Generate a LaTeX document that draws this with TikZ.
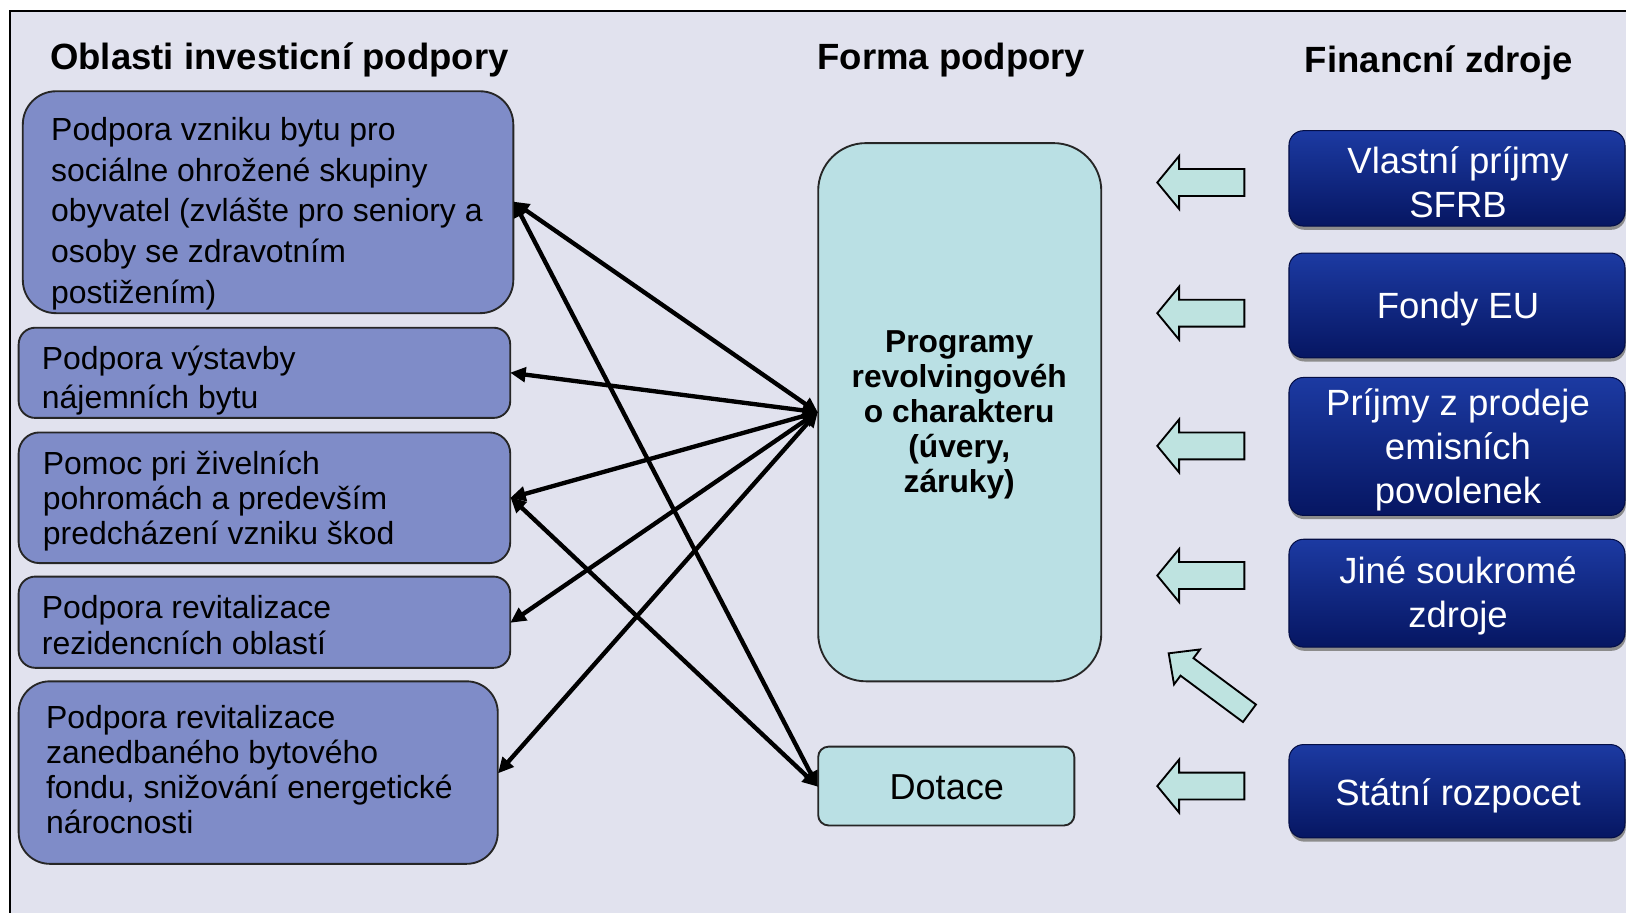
\documentclass[tikz,border=0pt]{standalone}
\usepackage{fontspec}
\setmainfont{Liberation Sans}
\usetikzlibrary{arrows.meta,fit,shadows}
\definecolor{bgcol}{RGB}{225,226,238}
\definecolor{lboxcol}{RGB}{127,140,200}
\definecolor{cboxcol}{RGB}{186,224,228}
\definecolor{afill}{RGB}{190,227,224}
\definecolor{navytop}{RGB}{28,58,162}
\definecolor{navybot}{RGB}{6,22,98}
\definecolor{navyline}{RGB}{4,14,70}
\begin{document}
\begin{tikzpicture}[x=0.5pt,y=-0.5pt,
  leftbox/.style={draw=black!85, line width=0.9pt, fill=lboxcol, inner sep=0pt},
  cyanbox/.style={draw=black!85, line width=0.9pt, fill=cboxcol, inner sep=0pt},
  srcbox/.style={draw=navyline, line width=0.5pt, top color=navytop, bottom color=navybot,
     rounded corners=7pt, inner sep=0pt,
     drop shadow={shadow xshift=0.4pt, shadow yshift=-1.8pt, fill=black!45, opacity=1}},
  head/.style={anchor=base west, inner sep=0pt, font=\bfseries\fontsize{17.6pt}{21pt}\selectfont},
  ltext/.style={anchor=west, align=left, inner sep=0pt},
  srctext/.style={align=center, inner sep=0pt, text=white, font=\fontsize{17.6pt}{21.2pt}\selectfont},
  link/.style={line width=2.1pt, >={Triangle[length=7.5pt,width=7pt]}, <->, shorten <=-0.5pt, shorten >=-0.5pt},
  fatline/.style={draw=black, line width=0.9pt, fill=afill, line join=miter},
  fatarrow/.pic={\draw[fatline] (0,0) -- (21,-25.5) -- (21,-13) -- (84,-13) -- (84,13) -- (21,13) -- (21,25.5) -- cycle;},
  fatarrowdiag/.pic={\draw[fatline] (0,0) -- (22,-21) -- (22,-10.5) -- (97,-10.5) -- (97,10.5) -- (22,10.5) -- (22,21) -- cycle;}
]
\useasboundingbox (0,0) rectangle (1568,880);
\clip (0,0) rectangle (1568,880);
\fill[white] (0,0) rectangle (1568,880);
\draw[fill=bgcol, line width=1pt] (10,11) rectangle (1620,920);

% headers
\node[head] (h1) at (48,67) {Oblasti investicní podpory};
\node[head] (h2) at (788,67) {Forma podpory};
\node[head] (h3) at (1258,70) {Financní zdroje};

% left boxes
\node[leftbox, rounded corners=16pt, fit={(22,88) (495,302)}] (b1) {};
\node[leftbox, rounded corners=8pt, fit={(18,316) (492,403)}] (b2) {};
\node[leftbox, rounded corners=10pt, fit={(18,417) (492,543)}] (b3) {};
\node[leftbox, rounded corners=8pt, fit={(18,556) (492,644)}] (b4) {};
\node[leftbox, rounded corners=15pt, fit={(18,657) (480,833)}] (b5) {};

\node[ltext, font=\fontsize{15.4pt}{19.6pt}\selectfont] (t1) at (49,206)
  {Podpora vzniku bytu pro\\sociálne ohrožené skupiny\\obyvatel (zvlášte pro seniory a\\osoby se zdravotním\\postižením)};
\node[ltext, font=\fontsize{15.4pt}{19pt}\selectfont] (t2) at (40,367)
  {Podpora výstavby\\nájemních bytu};
\node[ltext, font=\fontsize{15.4pt}{17pt}\selectfont] (t3) at (41,483)
  {Pomoc pri živelních\\pohromách a predevším\\predcházení vzniku škod};
\node[ltext, font=\fontsize{15.4pt}{17.5pt}\selectfont] (t4) at (40,603)
  {Podpora revitalizace\\rezidencních oblastí};
\node[ltext, font=\fontsize{15.4pt}{16.8pt}\selectfont] (t5) at (44,742)
  {Podpora revitalizace\\zanedbaného bytového\\fondu, snižování energetické\\nárocnosti};

% centre boxes
\node[cyanbox, rounded corners=23pt, fit={(789,138) (1062,657)}] (prog) {};
\node[align=center, inner sep=0pt, font=\bfseries\fontsize{15.3pt}{16.8pt}\selectfont] (progt) at (925,400)
  {Programy\\revolvingovéh\\o charakteru\\(úvery,\\záruky)};
\node[cyanbox, rounded corners=5pt, fit={(789,720) (1036,796)}] (dot) {};
\node[inner sep=0pt, font=\fontsize{17.4pt}{20pt}\selectfont] (dott) at (913,759) {Dotace};

% source boxes
\node[srcbox, fit={(1243,126) (1567,218)}] (s1) {};
\node[srcbox, fit={(1243,244) (1567,345)}] (s2) {};
\node[srcbox, fit={(1243,364) (1567,497)}] (s3) {};
\node[srcbox, fit={(1243,520) (1567,624)}] (s4) {};
\node[srcbox, fit={(1243,718) (1567,808)}] (s5) {};
\node[srctext] (st1) at (1406,176) {Vlastní príjmy\\SFRB};
\node[srctext] (st2) at (1406,298) {Fondy EU};
\node[srctext] (st3) at (1406,434) {Príjmy z prodeje\\emisních\\povolenek};
\node[srctext] (st4) at (1406,575) {Jiné soukromé\\zdroje};
\node[srctext] (st5) at (1406,767) {Státní rozpocet};

% block arrows
\pic at (1116,176) {fatarrow};
\pic at (1116,302) {fatarrow};
\pic at (1116,430) {fatarrow};
\pic at (1116,555) {fatarrow};
\pic at (1116,758) {fatarrow};
\pic[rotate=-36.6] at (1127,630) {fatarrowdiag};

% connectors
\draw[link] (prog.west) -- (b1.east);
\draw[link] (prog.west) -- (b2.east);
\draw[link] (prog.west) -- (b3.east);
\draw[link] (prog.west) -- (b4.east);
\draw[link] (prog.west) -- (b5.east);
\draw[link] (dot.west) -- (b1.east);
\draw[link] (dot.west) -- (b3.east);
\end{tikzpicture}
\end{document}
